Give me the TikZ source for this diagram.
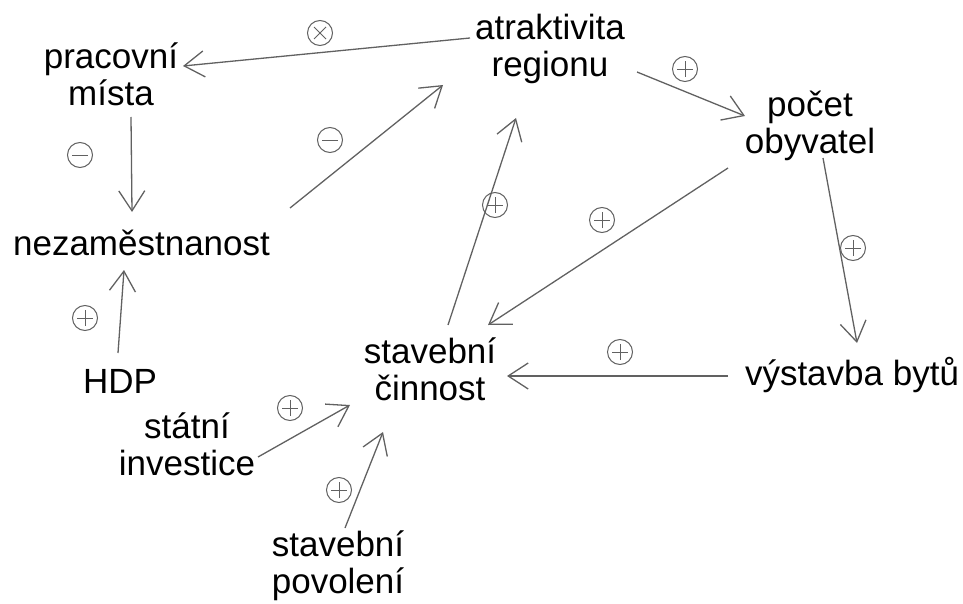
\documentclass[tikz,border=0pt]{standalone}
\usepackage{fontspec}
\setmainfont{Liberation Sans}
\usetikzlibrary{arrows.meta,calc}
\definecolor{linecol}{gray}{0.38}
\newcommand\sx{\rule[-8pt]{0pt}{36pt}}
\tikzset{
  lbl/.style={align=center,inner sep=0pt,font=\fontsize{35}{37}\selectfont,text=black},
  conn/.style={draw=linecol,line width=1.3pt,-{Straight Barb[length=20pt,width=26pt,line width=1.3pt]}},
  sgn/.style={circle,draw=linecol,line width=1pt,minimum size=25pt,inner sep=0pt},
  plussign/.style={sgn,path picture={
    \draw[linecol,line width=0.9pt] ([xshift=-8pt]path picture bounding box.center) -- ([xshift=8pt]path picture bounding box.center);
    \draw[linecol,line width=0.9pt] ([yshift=-8pt]path picture bounding box.center) -- ([yshift=8pt]path picture bounding box.center);}},
  minussign/.style={sgn,path picture={
    \draw[linecol,line width=0.9pt] ([xshift=-8pt]path picture bounding box.center) -- ([xshift=8pt]path picture bounding box.center);}},
  timessign/.style={sgn,path picture={
    \draw[linecol,line width=0.9pt] ([shift={(-6pt,-6pt)}]path picture bounding box.center) -- ([shift={(6pt,6pt)}]path picture bounding box.center);
    \draw[linecol,line width=0.9pt] ([shift={(-6pt,6pt)}]path picture bounding box.center) -- ([shift={(6pt,-6pt)}]path picture bounding box.center);}}
}
\begin{document}
\begin{tikzpicture}[x=1pt,y=-1pt]
\useasboundingbox (0,0) rectangle (963,604);
% nodes
\node[lbl] (pra) at (111,77.5) {\sx pracovní\\\sx místa};
\node[lbl] (atr) at (550,48.5) {\sx atraktivita\\\sx regionu};
\node[lbl] (poc) at (810,125.5) {\sx počet\\\sx obyvatel};
\node[lbl] (nez) at (141.5,245) {\sx nezaměstnanost};
\node[lbl] (hdp) at (120,383) {\sx HDP};
\node[lbl] (stc) at (430,371.5) {\sx stavební\\\sx činnost};
\node[lbl] (vys) at (852,375) {\sx výstavba bytů};
\node[lbl] (sti) at (187,447) {\sx státní\\\sx investice};
\node[lbl] (spo) at (338,565) {\sx stavební\\\sx povolení};
% connectors
\draw[conn] ($(atr)+(-80,-10.5)$) -- ($(pra)+(72,-11.5)$);
\draw[conn] ($(pra)+(20,39.5)$) -- ($(nez)+(-9.5,-33)$);
\draw[conn] ($(nez)+(148.5,-37)$) -- ($(atr)+(-107,36.5)$);
\draw[conn] ($(atr)+(87,23.5)$) -- ($(poc)+(-65,-9.5)$);
\draw[conn] ($(poc)+(-82,42.5)$) -- ($(stc)+(58,-46.5)$);
\draw[conn] ($(stc)+(18,-46.5)$) -- ($(atr)+(-34,69.5)$);
\draw[conn] ($(poc)+(13,32.5)$) -- ($(vys)+(5,-32)$);
\draw[conn] ($(vys)+(-124,1)$) -- ($(stc)+(77,4.5)$);
\draw[conn] ($(hdp)+(-2,-30)$) -- ($(nez)+(-17.5,25)$);
\draw[conn] ($(sti)+(71,10)$) -- ($(stc)+(-80,33.5)$);
\draw[conn] ($(spo)+(7,-37)$) -- ($(stc)+(-47,60.5)$);
% signs
\node[timessign] (s1) at (320,33) {};
\node[minussign] (s2) at (80,155) {};
\node[minussign] (s3) at (330,140) {};
\node[plussign] (s4) at (685,69) {};
\node[plussign] (s5) at (602,220) {};
\node[plussign] (s6) at (495,205) {};
\node[plussign] (s7) at (853,248) {};
\node[plussign] (s8) at (620,352) {};
\node[plussign] (s9) at (85,318) {};
\node[plussign] (s10) at (290,408) {};
\node[plussign] (s11) at (339,490) {};
\end{tikzpicture}
\end{document}
